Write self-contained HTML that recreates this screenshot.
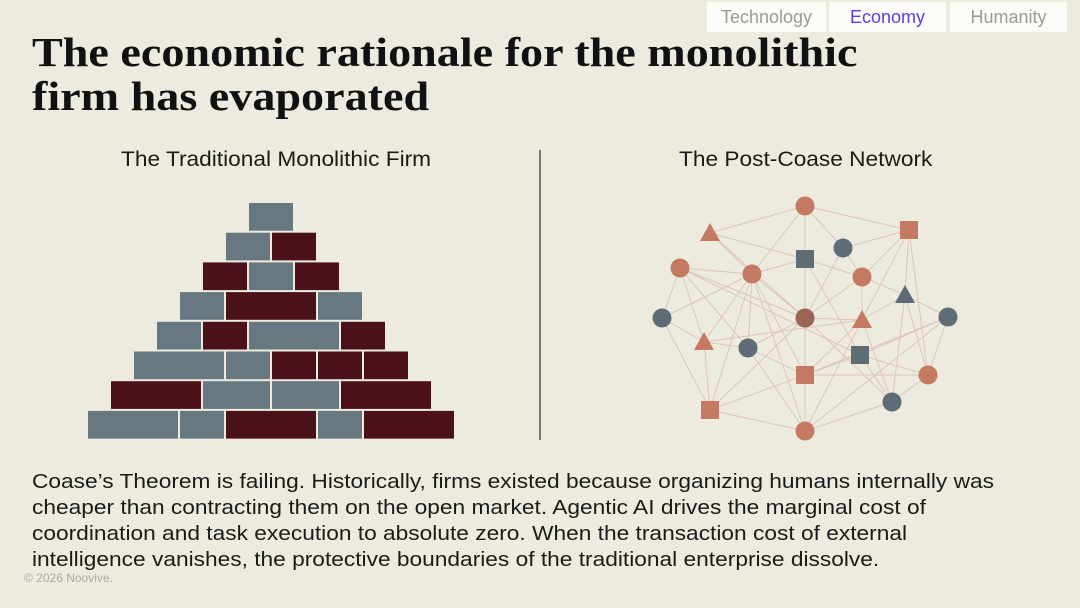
<!DOCTYPE html>
<html><head><meta charset="utf-8"><style>
body{margin:0;width:1080px;height:608px;background:#edebe0;overflow:hidden;position:relative;font-family:"Liberation Sans",sans-serif}
.tab{position:absolute;top:2px;height:30px;background:#fbfbf8;font-size:18px;line-height:30px;text-align:center;color:#9a9a9a}
.title{position:absolute;left:32px;font-family:"Liberation Serif",serif;font-weight:bold;font-size:41px;color:#111;white-space:nowrap;transform:scaleX(1.125);transform-origin:0 0}
.sub{position:absolute;top:148px;font-size:21px;color:#1a1a1a;white-space:nowrap;transform:scaleX(1.08);transform-origin:0 0}
.body{position:absolute;left:32px;font-size:20.5px;color:#1a1a1a;white-space:nowrap;transform:scaleX(1.108);transform-origin:0 0}
</style></head><body>
<div class="tab" style="left:707px;width:119px">Technology</div>
<div class="tab" style="left:829px;width:117px;color:#5b3fe0">Economy</div>
<div class="tab" style="left:950px;width:117px">Humanity</div>
<div class="title" style="top:28px">The economic rationale for the monolithic</div>
<div class="title" style="top:72px">firm has evaporated</div>
<div class="sub" style="left:121px">The Traditional Monolithic Firm</div>
<div class="sub" style="left:679px">The Post-Coase Network</div>
<div style="position:absolute;left:539px;top:150px;width:2px;height:290px;background:#777"></div>
<svg id="pyr" width="1080" height="608" style="position:absolute;left:0;top:0"></svg>
<svg id="net" width="1080" height="608" style="position:absolute;left:0;top:0"></svg>
<div class="body" style="top:470px">Coase’s Theorem is failing. Historically, firms existed because organizing humans internally was</div>
<div class="body" style="top:496px">cheaper than contracting them on the open market. Agentic AI drives the marginal cost of</div>
<div class="body" style="top:522px">coordination and task execution to absolute zero. When the transaction cost of external</div>
<div class="body" style="top:548px">intelligence vanishes, the protective boundaries of the traditional enterprise dissolve.</div>
<div style="position:absolute;left:24px;top:571px;font-size:12px;color:#aaa">© 2026 Noovive.</div>
<script>
const rowWidths=[[2],[2,2],[2,2,2],[2,4,2],[2,2,4,2],[4,2,2,2,2],[4,3,3,4],[4,2,4,2,4]];
const rowColors=[["g"],["g","r"],["r","g","r"],["g","r","g"],["g","r","g","r"],["g","g","r","r","r"],["r","g","g","r"],["g","g","r","g","r"]];
const NS="http://www.w3.org/2000/svg";
const pyr=document.getElementById('pyr');
const unit=23.0,cx=271,top0=203,rowH=29.7;
rowWidths.forEach((ws,i)=>{
  const tot=ws.reduce((a,b)=>a+b,0);
  let x=cx-tot*unit/2;
  ws.forEach((w,j)=>{
    const r=document.createElementNS(NS,'rect');
    r.setAttribute('x',x+1);r.setAttribute('y',top0+i*rowH);
    r.setAttribute('width',w*unit-2);r.setAttribute('height',rowH-2);
    r.setAttribute('fill',rowColors[i][j]==='g'?'#687880':'#4a111a');
    
    
    pyr.appendChild(r);x+=w*unit;
  });
});
const nodeX=[805,710,909,805,843,680,752,862,905,662,805,862,948,704,748,860,805,928,710,892,805];
const nodeY=[206,233,230,259,248,268,274,277,295,318,318,320,317,342,348,355,375,375,410,402,431];
const nodeShape=["c","t","s","s","c","c","c","c","t","c","c","t","c","t","c","s","s","c","s","c","c"];
const nodeColor=["o","o","o","g","g","o","o","o","g","g","b","o","g","o","g","g","o","o","o","g","o"];
const edges=[[0,1],[0,2],[0,3],[0,4],[0,6],[1,3],[1,6],[2,4],[2,7],[2,8],[2,11],[2,17],[3,6],[3,7],[3,10],[3,15],[4,7],[4,10],[5,6],[5,9],[5,13],[5,10],[5,14],[5,15],[6,9],[6,10],[6,13],[6,14],[6,16],[6,18],[6,20],[7,8],[7,10],[7,11],[8,12],[8,19],[8,17],[8,11],[9,13],[9,18],[10,11],[10,14],[10,16],[10,18],[10,19],[11,16],[11,19],[11,20],[11,13],[12,15],[12,17],[12,16],[13,14],[13,18],[14,20],[14,16],[15,16],[15,19],[15,17],[16,18],[16,20],[16,17],[17,19],[18,20],[19,20],[12,20],[1,10]];
const net=document.getElementById('net');
const cols={o:'#c47a62',g:'#5e6c76',b:'#9a6452'};
edges.forEach(([a,b],k)=>{
  const l=document.createElementNS(NS,'line');
  l.setAttribute('x1',nodeX[a]);l.setAttribute('y1',nodeY[a]);
  l.setAttribute('x2',nodeX[b]);l.setAttribute('y2',nodeY[b]);
  l.setAttribute('stroke','#dfc4ba');l.setAttribute('stroke-width','1');
  
  
  net.appendChild(l);
});
nodeX.forEach((x,i)=>{
  const y=nodeY[i],f=cols[nodeColor[i]];let e;
  if(nodeShape[i]==='c'){e=document.createElementNS(NS,'circle');e.setAttribute('cx',x);e.setAttribute('cy',y);e.setAttribute('r',9.5);}
  else if(nodeShape[i]==='s'){e=document.createElementNS(NS,'rect');e.setAttribute('x',x-9);e.setAttribute('y',y-9);e.setAttribute('width',18);e.setAttribute('height',18);}
  else{e=document.createElementNS(NS,'polygon');e.setAttribute('points',`${x},${y-10} ${x+10},${y+8} ${x-10},${y+8}`);}
  e.setAttribute('fill',f);
  
  
  net.appendChild(e);
});
</script>
</body></html>
